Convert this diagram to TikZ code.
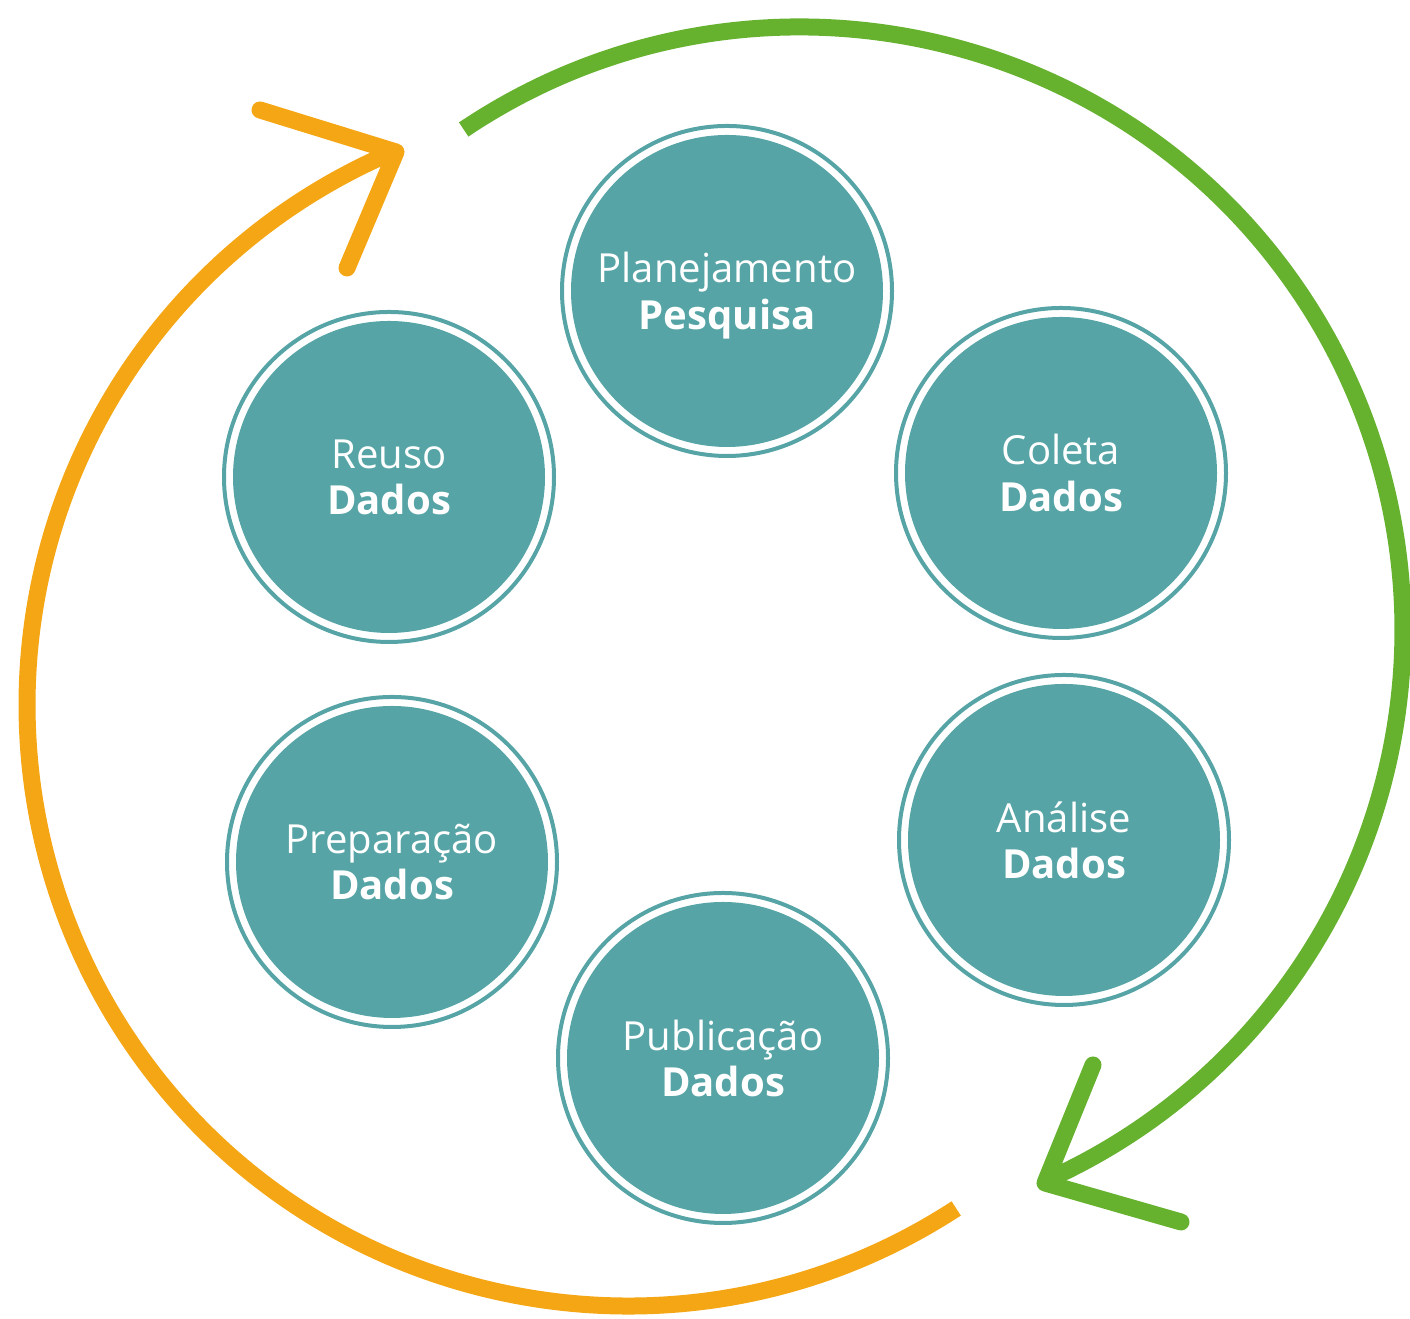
\documentclass[tikz,border=0pt]{standalone}
\usepackage{fontspec}
\setmainfont{Open Sans}
\usepackage{tikz}
\definecolor{stageteal}{HTML}{56A4A6}
\definecolor{cyclegreen}{HTML}{66B22F}
\definecolor{cycleorange}{HTML}{F5A614}
\tikzset{
	stage/.style={circle, fill=stageteal, minimum size=31.2mm, inner sep=0pt,
		text=white, align=center, text depth=0pt, font=\fontsize{11.4}{13.2}\selectfont},
	ring/.style={draw=stageteal, line width=0.4mm},
	cyclearc/.style={line width=1.7mm, line cap=butt},
	tip/.style={line width=1.7mm, line cap=round, line join=round}
}

\begin{document}
\begin{tikzpicture}[x=0.1mm, y=0.1mm]
		%%%%% START %%%%%
		\useasboundingbox (0, 0) rectangle (1410, 1319);
		
		\node[stage] (plan) at (727, 1028) {Planejamento\\\textbf{Pesquisa}};
		\node[stage] (coleta) at (1061, 846) {Coleta\\\textbf{Dados}};
		\node[stage] (analise) at (1064, 479) {Análise\\\textbf{Dados}};
		\node[stage] (publica) at (723, 261) {Publicação\\\textbf{Dados}};
		\node[stage] (prepara) at (392, 457) {Preparação\\\textbf{Dados}};
		\node[stage] (reuso) at (389, 842) {Reuso\\\textbf{Dados}};
		
		\foreach \n in {plan, coleta, analise, publica, prepara, reuso}
			\draw[ring] (\n) circle (165);
		
		% green arc, right side
		\coordinate (greentip) at (1045, 136);
		\draw[cyclearc, color=cyclegreen] (800, 689) ++(123.9:603) arc (123.9:-66.1:603);
		\draw[tip, color=cyclegreen] (1093, 254) -- (greentip) -- (1181, 97);
		
		% orange arc, left side
		\coordinate (orangetip) at (396, 1167);
		\draw[cycleorange, cyclearc] (628, 614) ++(-56.9:601) arc (-56.9:-247.2:601);
		\draw[tip, color=cycleorange] (260, 1209) -- (orangetip) -- (347, 1051);
		
		%%%%% END %%%%%
	\end{tikzpicture}
\end{document}
